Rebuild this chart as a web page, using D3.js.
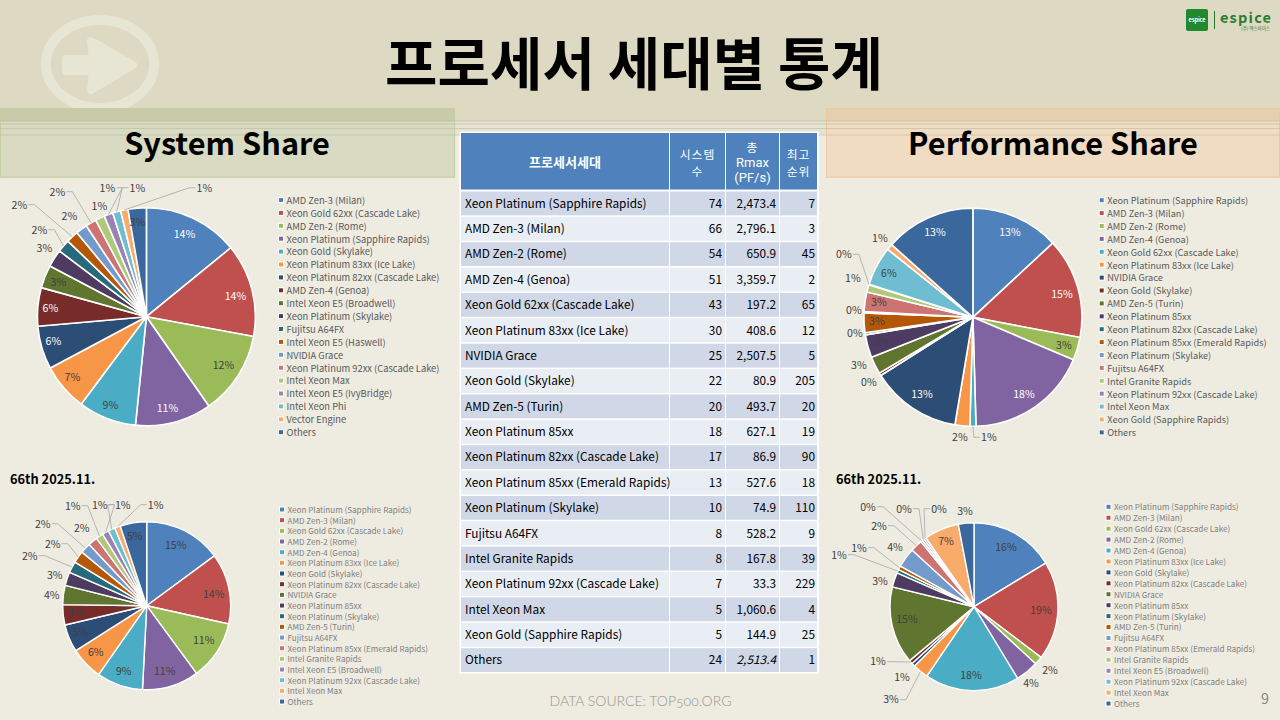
<!DOCTYPE html>
<html>
<head>
<meta charset="utf-8">
<script src="https://cdn.jsdelivr.net/npm/d3@7"></script>
<style>
  html, body { margin: 0; padding: 0; background: #eeece1; }
  svg { display: block; }
  text { font-family: "Noto Sans CJK KR", "Noto Sans", sans-serif; }
</style>
</head>
<body>
<svg id="slide" width="1280" height="720"></svg>
<script>
// table
const tableHeads = ["프로세서세대", ["시스템", "수"], ["총", "Rmax", "(PF/s)"], ["최고", "순위"]];
const tableNames = ["Xeon Platinum (Sapphire Rapids)", "AMD Zen-3 (Milan)", "AMD Zen-2 (Rome)", "AMD Zen-4 (Genoa)",
  "Xeon Gold 62xx (Cascade Lake)", "Xeon Platinum 83xx (Ice Lake)", "NVIDIA Grace", "Xeon Gold (Skylake)",
  "AMD Zen-5 (Turin)", "Xeon Platinum 85xx", "Xeon Platinum 82xx (Cascade Lake)", "Xeon Platinum 85xx (Emerald Rapids)",
  "Xeon Platinum (Skylake)", "Fujitsu A64FX", "Intel Granite Rapids", "Xeon Platinum 92xx (Cascade Lake)",
  "Intel Xeon Max", "Xeon Gold (Sapphire Rapids)", "Others"];
const tableSystems = [74, 66, 54, 51, 43, 30, 25, 22, 20, 18, 17, 13, 10, 8, 8, 7, 5, 5, 24];
const tableRmax = [2473.4, 2796.1, 650.9, 3359.7, 197.2, 408.6, 2507.5, 80.9, 493.7, 627.1, 86.9, 527.6, 74.9, 528.2, 167.8, 33.3, 1060.6, 144.9, 2513.4];
const tableRank = [7, 3, 45, 2, 65, 12, 5, 205, 20, 19, 90, 18, 110, 9, 39, 229, 4, 25, 1];

// pies, percentages
const sysNames = ["AMD Zen-3 (Milan)", "Xeon Gold 62xx (Cascade Lake)", "AMD Zen-2 (Rome)", "Xeon Platinum (Sapphire Rapids)",
  "Xeon Gold (Skylake)", "Xeon Platinum 83xx (Ice Lake)", "Xeon Platinum 82xx (Cascade Lake)", "AMD Zen-4 (Genoa)",
  "Intel Xeon E5 (Broadwell)", "Xeon Platinum (Skylake)", "Fujitsu A64FX", "Intel Xeon E5 (Haswell)", "NVIDIA Grace",
  "Xeon Platinum 92xx (Cascade Lake)", "Intel Xeon Max", "Intel Xeon E5 (IvyBridge)", "Intel Xeon Phi", "Vector Engine", "Others"];
const sysValues = [14.1, 13.8, 12.4, 11.3, 8.6, 7.0, 6.4, 5.7, 3.4, 2.6, 1.9, 1.8, 1.7, 1.6, 1.4, 1.3, 1.2, 1.1, 2.7];

const sys66Names = ["Xeon Platinum (Sapphire Rapids)", "AMD Zen-3 (Milan)", "Xeon Gold 62xx (Cascade Lake)", "AMD Zen-2 (Rome)",
  "AMD Zen-4 (Genoa)", "Xeon Platinum 83xx (Ice Lake)", "Xeon Gold (Skylake)", "Xeon Platinum 82xx (Cascade Lake)", "NVIDIA Grace",
  "Xeon Platinum 85xx", "Xeon Platinum (Skylake)", "AMD Zen-5 (Turin)", "Fujitsu A64FX", "Xeon Platinum 85xx (Emerald Rapids)",
  "Intel Granite Rapids", "Intel Xeon E5 (Broadwell)", "Xeon Platinum 92xx (Cascade Lake)", "Intel Xeon Max", "Others"];
const sys66Values = [14.9, 13.6, 11.4, 10.9, 8.9, 6.3, 5.3, 3.9, 3.7, 2.6, 2.2, 2.3, 2.0, 1.8, 1.4, 1.3, 1.3, 1.1, 5.1];

const perfNames = ["Xeon Platinum (Sapphire Rapids)", "AMD Zen-3 (Milan)", "AMD Zen-2 (Rome)", "AMD Zen-4 (Genoa)",
  "Xeon Gold 62xx (Cascade Lake)", "Xeon Platinum 83xx (Ice Lake)", "NVIDIA Grace", "Xeon Gold (Skylake)", "AMD Zen-5 (Turin)",
  "Xeon Platinum 85xx", "Xeon Platinum 82xx (Cascade Lake)", "Xeon Platinum 85xx (Emerald Rapids)", "Xeon Platinum (Skylake)",
  "Fujitsu A64FX", "Intel Granite Rapids", "Xeon Platinum 92xx (Cascade Lake)", "Intel Xeon Max", "Xeon Gold (Sapphire Rapids)", "Others"];
const perfValues = [13.1, 14.9, 3.4, 18.2, 0.9, 2.2, 13.4, 0.4, 2.6, 3.4, 0.3, 2.9, 0.2, 2.9, 1.1, 0.1, 5.8, 0.9, 13.4];

const perf66Names = ["Xeon Platinum (Sapphire Rapids)", "AMD Zen-3 (Milan)", "Xeon Gold 62xx (Cascade Lake)", "AMD Zen-2 (Rome)",
  "AMD Zen-4 (Genoa)", "Xeon Platinum 83xx (Ice Lake)", "Xeon Gold (Skylake)", "Xeon Platinum 82xx (Cascade Lake)", "NVIDIA Grace",
  "Xeon Platinum 85xx", "Xeon Platinum (Skylake)", "AMD Zen-5 (Turin)", "Fujitsu A64FX", "Xeon Platinum 85xx (Emerald Rapids)",
  "Intel Granite Rapids", "Intel Xeon E5 (Broadwell)", "Xeon Platinum 92xx (Cascade Lake)", "Intel Xeon Max", "Others"];
const perf66Values = [16.3, 19.0, 1.6, 4.4, 18.2, 3.0, 0.7, 0.7, 14.9, 2.8, 0.7, 0.7, 3.8, 2.3, 0.4, 0.4, 0.4, 6.7, 3.0];

// office palette, same order in every pie
const colors = ["#4f81bd", "#c0504d", "#9bbb59", "#8064a2", "#4bacc6", "#f79646", "#2c4d75", "#772c2a", "#5f7530",
  "#4d3b62", "#276a7c", "#b65708", "#729aca", "#cd7371", "#afc97a", "#9983b5", "#6fbdd1", "#f9ab6b", "#3a679c"];

const svg = d3.select("#slide");

// ---- slide background ----
svg.append("rect").attr("width", 1280).attr("height", 720).attr("fill", "#eeece1");
svg.append("rect").attr("width", 1280).attr("height", 121).attr("fill", "#ddd9c3");
svg.append("rect").attr("y", 121).attr("width", 1280).attr("height", 14).attr("fill", "#e6e3d2");

const icon = svg.append("g").attr("fill", "none");
icon.append("ellipse").attr("cx", 100).attr("cy", 64).attr("rx", 54).attr("ry", 44)
  .attr("stroke", "#e7e5d4").attr("stroke-width", 10);
icon.append("path").attr("d", "M66 59 H93 L91 41 L133 65 L91 90 L93 71 H66 Z")
  .attr("fill", "#e7e5d4").attr("stroke", "#e7e5d4").attr("stroke-width", 8).attr("stroke-linejoin", "round");

// section header boxes
function sectionBox(x, w, top, bottom, edge) {
  svg.append("rect").attr("x", x).attr("y", 108).attr("width", w).attr("height", 70).attr("fill", bottom);
  svg.append("rect").attr("x", x).attr("y", 108).attr("width", w).attr("height", 13).attr("fill", top);
  svg.append("rect").attr("x", x + 0.5).attr("y", 108.5).attr("width", w - 1).attr("height", 68.5)
    .attr("fill", "none").attr("stroke", edge);
}
sectionBox(0, 455, "#c9cba8", "#d8dbc1", "#c5cfa4");
sectionBox(826, 454, "#e6cfae", "#f0dbc3", "#ecc9a0");

// thin stripes that run behind the headers
svg.append("g").selectAll("line").data([121, 124, 128.5, 135]).join("line")
  .attr("x1", 0).attr("x2", 1280)
  .attr("y1", d => d).attr("y2", d => d)
  .attr("stroke", "#b9b79c").attr("stroke-width", 1).attr("opacity", 0.55);

svg.selectAll("text.section").data([["System Share", 227], ["Performance Share", 1053]]).join("text").attr("class", "section")
  .attr("x", d => d[1]).attr("y", 155).attr("text-anchor", "middle")
  .attr("font-size", 30.7).attr("font-weight", 700).attr("fill", "#000").text(d => d[0]);

svg.append("text").attr("x", 634).attr("y", 85).attr("text-anchor", "middle")
  .attr("font-size", 57).attr("font-weight", 700).attr("fill", "#000").text("프로세서 세대별 통계");

// logo
const logo = svg.append("g");
logo.append("rect").attr("x", 1186).attr("y", 9).attr("width", 22).attr("height", 22).attr("rx", 2).attr("fill", "#1e8a2d");
logo.append("text").attr("x", 1197).attr("y", 22).attr("text-anchor", "middle").attr("font-size", 5.5)
  .attr("font-weight", 700).attr("fill", "#fff").text("espice");
logo.append("line").attr("x1", 1214.5).attr("x2", 1214.5).attr("y1", 11).attr("y2", 29).attr("stroke", "#1e7a2d");
logo.append("text").attr("x", 1220).attr("y", 23).attr("font-size", 14.5).attr("font-weight", 700)
  .attr("letter-spacing", 1.2).attr("fill", "#2a7d33").text("espice");
logo.append("text").attr("x", 1270).attr("y", 30).attr("text-anchor", "end").attr("font-size", 4.5)
  .attr("fill", "#2a7d33").text("(주) 엑스파이스");

// ---- table ----
const colEdges = [461, 670, 726, 780, 818];
const rowY = d3.scaleBand().domain(d3.range(tableNames.length)).range([191.5, 672]).paddingInner(0.06);
const fmtRmax = d3.format(",.1f");
const table = svg.append("g");

table.append("rect").attr("x", 459.5).attr("y", 131.5).attr("width", 359.5).attr("height", 542).attr("fill", "#fff");

table.selectAll("rect.head").data(tableHeads).join("rect").attr("class", "head")
  .attr("x", (d, i) => colEdges[i]).attr("y", 133)
  .attr("width", (d, i) => colEdges[i + 1] - colEdges[i] - 1).attr("height", 56.5).attr("fill", "#4f81bd");

tableHeads.forEach((h, i) => {
  const lines = Array.isArray(h) ? h : [h];
  const cx = (colEdges[i] + colEdges[i + 1] - 1) / 2;
  const gap = lines.length === 3 ? 15.3 : 17;
  const isLatin = t => /^[\x00-\x7f]+$/.test(t);
  table.selectAll(null).data(lines).join("text")
    .attr("x", cx).attr("text-anchor", "middle")
    .attr("y", (d, k) => 167 + (k - (lines.length - 1) / 2) * gap)
    .attr("font-size", d => isLatin(d) ? 13 : (i === 0 ? 13 : 11.8))
    .attr("letter-spacing", d => (i > 0 && !isLatin(d)) ? 1 : 0)
    .attr("font-weight", i === 0 ? 700 : 400).attr("fill", "#fff")
    .style("font-family", d => isLatin(d) ? "Roboto, sans-serif" : null)
    .text(d => d);
});

const rows = table.selectAll("g.row").data(tableNames).join("g").attr("class", "row")
  .attr("transform", (d, i) => `translate(0,${rowY(i)})`);
colEdges.slice(0, -1).forEach((x, c) => {
  rows.append("rect").attr("x", x).attr("width", colEdges[c + 1] - x - 1).attr("height", rowY.bandwidth())
    .attr("fill", (d, i) => i % 2 ? "#e9edf4" : "#d0d8e8");
});
const rowText = rowY.bandwidth() / 2 + 4.3;
rows.append("text").attr("x", 465).attr("y", rowText).attr("font-size", 11.85).attr("fill", "#000").text(d => d);
rows.append("text").attr("x", 722).attr("y", rowText).attr("text-anchor", "end").attr("font-size", 11.85)
  .text((d, i) => tableSystems[i]);
rows.append("text").attr("x", 776).attr("y", rowText).attr("text-anchor", "end").attr("font-size", 11.85)
  .attr("font-style", (d, i) => d === "Others" ? "italic" : "normal")
  .text((d, i) => fmtRmax(tableRmax[i]));
rows.append("text").attr("x", 815).attr("y", rowText).attr("text-anchor", "end").attr("font-size", 11.85)
  .text((d, i) => tableRank[i]);

// ---- pies ----
// label spots are relative to the pie centre, hand placed as in the original slide
const pieLayouts = [
  { names: sysNames, values: sysValues, cx: 146.4, cy: 316.7, r: 109, lx: 278.5, lt: 200.5, lstep: 12.9, lfont: 9.35, lcolor: "#595959",
    leaders: [10, 11, 13, 15, 16, 17], white: [0, 1, 3, 6, 7],
    spots: [[38,-83],[89,-21],[77,49],[21,92],[-36,89],[-74,61],[-93,25],[-96,-9],[-88,-35],[-102,-69],[-107,-87],[-127,-112],[-77,-101],[-89,-125],[-47,-111],[-39,-129],[-9,-129],[58,-129],[-9,-95]] },
  { names: sys66Names, values: sys66Values, cx: 146.7, cy: 605.7, r: 84, lx: 279.5, lt: 510, lstep: 10.67, lfont: 8.1, lcolor: "#7f7f7f",
    leaders: [10, 11, 12, 14, 15, 16, 17], white: [],
    spots: [[29,-61],[67,-12],[57,35],[18,66],[-23,66],[-51,47],[-66,27],[-71,6],[-95,-11],[-92,-31],[-117,-50],[-94,-62],[-104,-82],[-65,-78],[-74,-100],[-47,-101],[-24,-101],[9,-101],[-12,-70]] },
  { names: perfNames, values: perfValues, cx: 972.9, cy: 317.3, r: 109, lx: 1099.2, lt: 200.7, lstep: 12.9, lfont: 9.2, lcolor: "#595959",
    leaders: [4, 15], white: [0, 1, 3, 6, 18],
    spots: [[37,-85],[89,-23],[91,28],[51,77],[16,120],[-13,120],[-51,77],[-104,65],[-114,48],[-92,24],[-118,16],[-96,4],[-119,-7],[-94,-15],[-120,-39],[-129,-63],[-84,-44],[-93,-79],[-38,-85]] },
  { names: perf66Names, values: perf66Values, cx: 974, cy: 606.7, r: 84, lx: 1106, lt: 507.3, lstep: 10.93, lfont: 8.15, lcolor: "#7f7f7f",
    leaders: [5, 7, 10, 11, 13, 14, 15, 16], white: [],
    spots: [[32,-60],[67,3],[76,64],[57,77],[-3,69],[-83,93],[-72,71],[-96,55],[-67,13],[-94,-26],[-135,-52],[-115,-59],[-79,-60],[-95,-81],[-106,-100],[-70,-98],[-35,-98],[-28,-66],[-9,-96]] }
];

const pie = d3.pie().sort(null);
const fmtPct = v => Math.round(v) + "%";

pieLayouts.forEach(p => {
  const g = svg.append("g").attr("transform", `translate(${p.cx},${p.cy})`);
  const arc = d3.arc().innerRadius(0).outerRadius(p.r);
  const rim = d3.arc().innerRadius(p.r).outerRadius(p.r);
  const slices = pie(p.values);

  g.selectAll("path").data(slices).join("path")
    .attr("d", arc).attr("fill", (d, i) => colors[i])
    .attr("stroke", "#fff").attr("stroke-width", p.r > 100 ? 1.6 : 1.4).attr("stroke-linejoin", "round");

  // leader lines: short flat piece next to the label, then on to the rim
  g.selectAll("polyline").data(slices.filter(d => p.leaders.includes(d.index))).join("polyline")
    .attr("fill", "none").attr("stroke", "#a6a6a6").attr("stroke-width", 0.8)
    .attr("points", d => {
      const [sx, sy] = p.spots[d.index];
      const [ex, ey] = rim.centroid(d);
      const side = ex > sx ? 1 : -1;
      return [[sx + side * 9, sy], [sx + side * 15, sy], [ex, ey]].join(" ");
    });

  g.selectAll("text").data(slices).join("text")
    .attr("x", d => p.spots[d.index][0]).attr("y", d => p.spots[d.index][1] + 3.8)
    .attr("text-anchor", "middle").attr("font-size", 10.6)
    .attr("fill", d => p.white.includes(d.index) ? "#fff" : "#404040")
    .text(d => fmtPct(d.value));

  const leg = svg.append("g").selectAll("g").data(p.names).join("g")
    .attr("transform", (d, i) => `translate(${p.lx},${p.lt + i * p.lstep})`);
  leg.append("rect").attr("x", -0.5).attr("y", -3.5).attr("width", 6).attr("height", 6).attr("fill", "#fff");
  leg.append("rect").attr("x", 0.5).attr("y", -2.5).attr("width", 4).attr("height", 4).attr("fill", (d, i) => colors[i]);
  leg.append("text").attr("x", 8).attr("y", p.lfont * 0.36).attr("font-size", p.lfont)
    .attr("fill", p.lcolor).text(d => d);
});

// edition captions and footer
svg.selectAll("text.edition").data([[10, 484], [836, 484]]).join("text").attr("class", "edition")
  .attr("x", d => d[0]).attr("y", d => d[1]).attr("font-size", 12.8).attr("font-weight", 700).attr("fill", "#000")
  .text("66th 2025.11.");
svg.append("text").attr("x", 640.5).attr("y", 706).attr("text-anchor", "middle").attr("font-size", 14)
  .style("font-family", "Lato, sans-serif").style("font-variant-numeric", "oldstyle-nums").attr("font-weight", 300)
  .attr("fill", "#96948a").text("DATA SOURCE: TOP500.ORG");
svg.append("text").attr("x", 1265).attr("y", 704).attr("text-anchor", "middle").attr("font-size", 14.5)
  .attr("fill", "#8c8a78").text("9");
</script>
</body>
</html>
